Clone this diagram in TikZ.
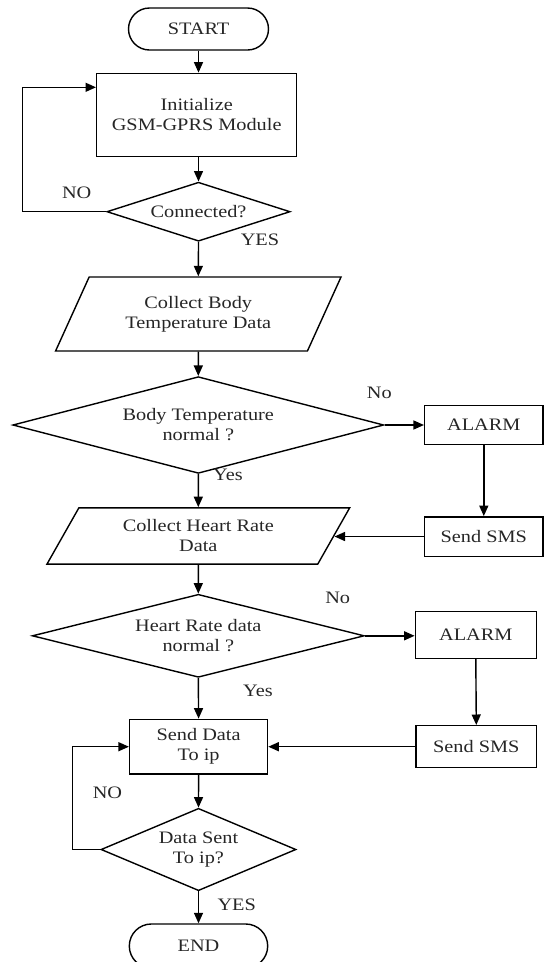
\documentclass[tikz,border=0pt]{standalone}
\usepackage{fontspec}
\setmainfont{Liberation Serif}[FakeStretch=1.16]
\usetikzlibrary{shapes.geometric,shapes.misc,arrows.meta}
\tikzset{
  base/.style={draw=black, line width=1.4pt, inner sep=0pt, align=center,
    font=\fontsize{17.5}{20}\selectfont, text=black!85},
  term/.style={base, rounded rectangle},
  procbox/.style={base, rectangle},
  iobox/.style={base, trapezium, trapezium left angle=58, trapezium right angle=122,
    trapezium stretches=true},
  decide/.style={base, diamond},
  arr/.style={line width=1.4pt, -{Triangle[length=10.5pt,width=9pt]}},
  lbl/.style={font=\fontsize{17.5}{20}\selectfont, text=black!85, inner sep=0pt}
}
\begin{document}
\begin{tikzpicture}[x=1pt,y=-1pt]
\useasboundingbox (0,0) rectangle (544,962);
% nodes
\node[term, minimum width=140pt, minimum height=42pt] (start) at (198.5,29) {START};
\node[procbox, minimum width=200pt, minimum height=83.4pt] (init) at (196.7,115) {Initialize\\GSM-GPRS Module};
\node[decide, aspect=3.1, minimum width=183.3pt, minimum height=59pt] (conn) at (198.5,211.7) {Connected?};
\node[iobox, minimum width=286.3pt, minimum height=74pt] (p1) at (198.3,314) {Collect Body\\Temperature Data};
\node[decide, aspect=3.8, minimum width=371pt, minimum height=96.7pt] (d2) at (198.3,425) {Body Temperature\\normal ?};
\node[procbox, minimum width=118.3pt, minimum height=39pt] (alarm1) at (483.8,424.7) {ALARM};
\node[procbox, minimum width=118.3pt, minimum height=39.4pt] (sms1) at (483.8,536.5) {Send SMS};
\node[iobox, minimum width=303pt, minimum height=56.3pt] (p2) at (198.3,536) {Collect Heart Rate\\Data};
\node[decide, aspect=4, minimum width=332pt, minimum height=83pt] (d3) at (198.3,635.8) {Heart Rate data\\normal ?};
\node[procbox, minimum width=121pt, minimum height=46.6pt] (alarm2) at (475.8,635) {ALARM};
\node[procbox, minimum width=120.5pt, minimum height=42pt] (sms2) at (476.3,746.7) {Send SMS};
\node[procbox, minimum width=138pt, minimum height=54.7pt] (send) at (198.6,746.7) {Send Data\\To ip};
\node[decide, aspect=2.37, minimum width=195pt, minimum height=82.4pt] (d4) at (198.5,849.5) {Data Sent\\To ip?};
\node[term, minimum width=138.4pt, minimum height=44pt] (end) at (198.5,946) {END};
% loop corners
\coordinate (loopA) at (22.7,87.3);
\coordinate (loopB) at (72.7,746.7);
% connectors
\draw[arr] (start.south) -- (start.south |- init.north);
\draw[arr] (conn.north |- init.south) -- (conn.north);
\draw[arr] (conn.west) -| (loopA) -- (loopA -| init.west);
\draw[arr] (conn.south) -- (p1.north);
\draw[arr] (p1.south) -- (d2.north);
\draw[arr] (d2.east) -- (d2.east -| alarm1.west);
\draw[arr] (alarm1.south) -- (sms1.north);
\draw[arr] (sms1.west) -- (sms1.west -| p2.east);
\draw[arr] (d2.south) -- (p2.north);
\draw[arr] (p2.south) -- (d3.north);
\draw[arr] (d3.east) -- (d3.east -| alarm2.west);
\draw[arr] (alarm2.south) -- (sms2.north);
\draw[arr] (sms2.west) -- (send.east);
\draw[arr] (d3.south) -- (send.north);
\draw[arr] (send.south) -- (d4.north);
\draw[arr] (d4.west) -| (loopB) -- (send.west);
\draw[arr] (d4.south) -- (end.north);
% labels
\node[lbl] (lno1) at (76.7,193) {NO};
\node[lbl] (lyes1) at (260,240) {YES};
\node[lbl] (lno2) at (379.3,393.3) {No};
\node[lbl] (lyes2) at (228,475) {Yes};
\node[lbl] (lno3) at (337.7,598.3) {No};
\node[lbl] (lyes3) at (258,691) {Yes};
\node[lbl] (lno4) at (107.5,792.7) {NO};
\node[lbl] (lyes4) at (236.7,904.3) {YES};
\end{tikzpicture}
\end{document}
